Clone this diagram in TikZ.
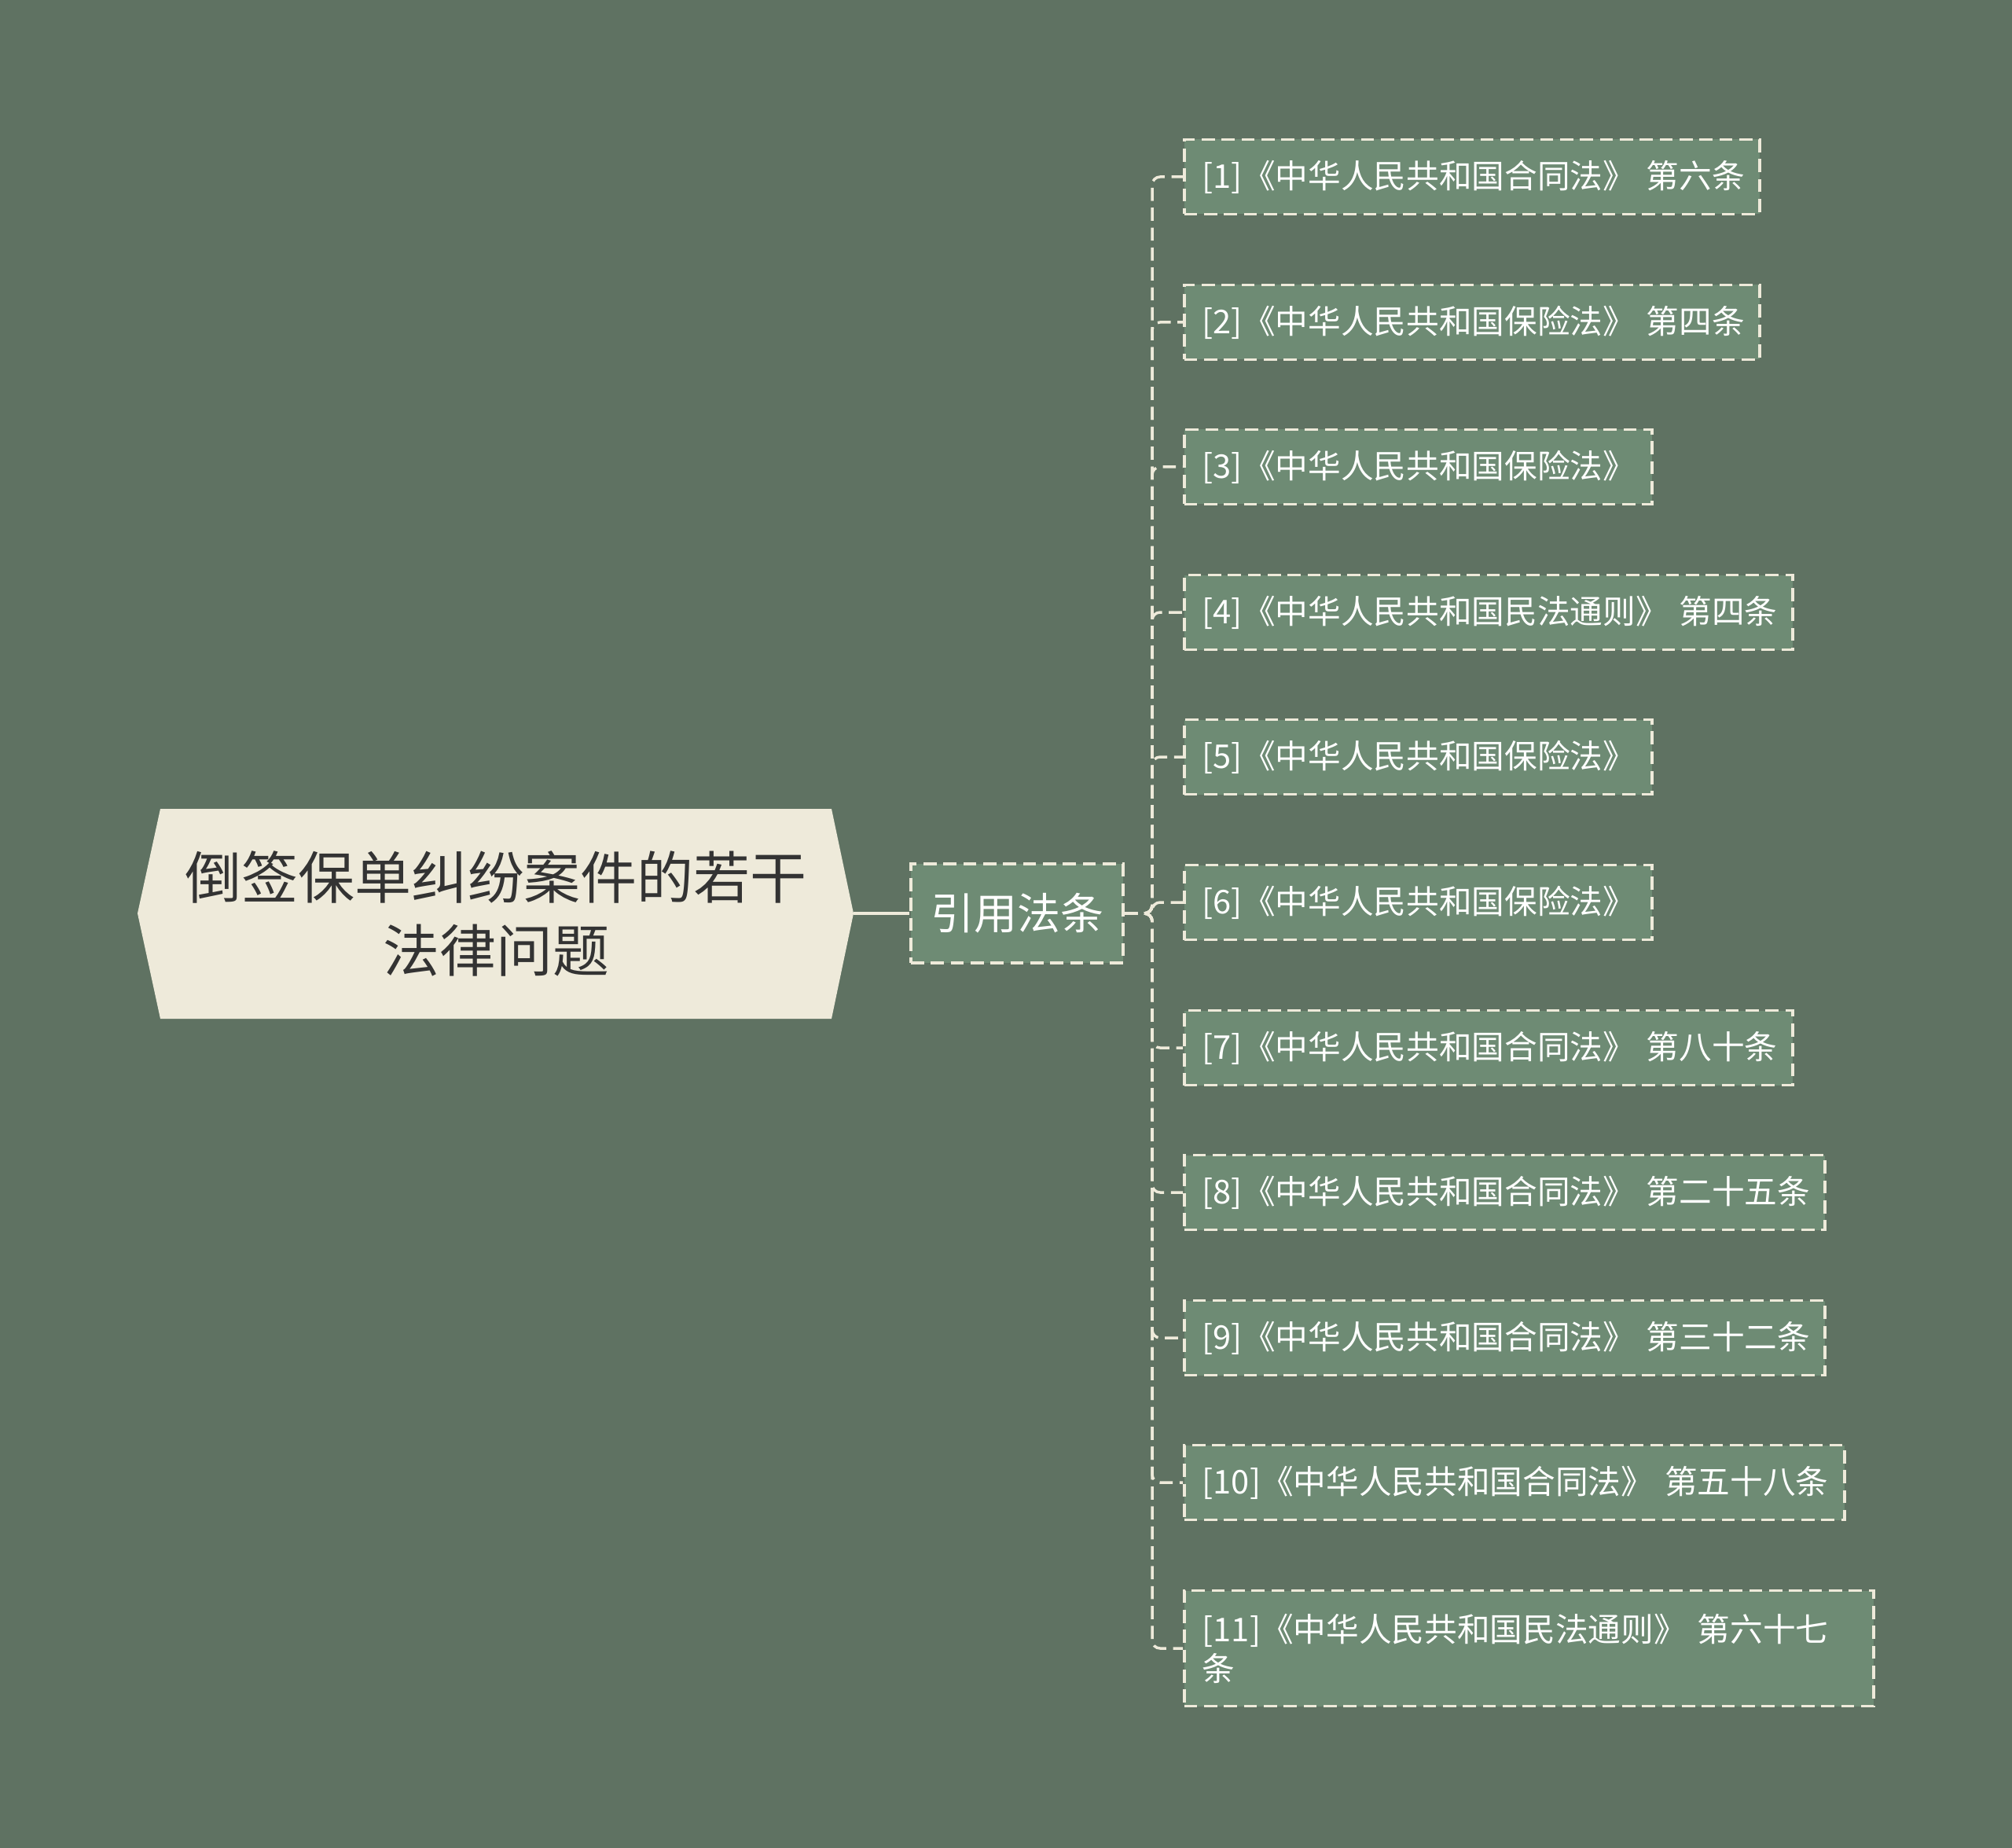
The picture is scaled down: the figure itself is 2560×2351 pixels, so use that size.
\documentclass[tikz,border=0pt]{standalone}
\usepackage{fontspec}
\newfontfamily\cjk{Noto Sans CJK SC}
\definecolor{bgc}{HTML}{5F7262}
\definecolor{cream}{HTML}{EEEADA}
\definecolor{leaffill}{HTML}{6E8B74}
\definecolor{roottext}{HTML}{333333}
\tikzset{
  dashline/.style={draw=cream, line width=1.05pt, dash pattern=on 5pt off 2.6pt},
  leafbox/.style={dashline, fill=leaffill, text=white, font=\cjk\fontsize{12.5}{15}\selectfont,
    anchor=west, inner xsep=6.9pt, inner ysep=0pt, align=left, minimum height=28.5pt},
  midbox/.style={dashline, fill=leaffill, text=white, font=\cjk\fontsize{16.5}{20}\selectfont,
    inner sep=0pt, minimum width=81pt, minimum height=37.8pt},
  roottxt/.style={text=roottext, font=\cjk\fontsize{21.6}{27.9}\selectfont, align=center, inner sep=0pt},
  link/.style={dashline, rounded corners=3pt},
}
\begin{document}
\begin{tikzpicture}[x=0.3pt, y=-0.3pt]
\useasboundingbox (0,0) rectangle (2560,2351);
\fill[bgc] (0,0) rectangle (2560,2351);
% root shape
\fill[cream] (175,1162) -- (204,1029) -- (1058,1029) -- (1086,1162) -- (1058,1296) -- (204,1296) -- cycle;
\node[roottxt] (root) at (631,1162) {倒签保单纠纷案件的若干\\法律问题};
\coordinate (rootR) at (1086,1162);
\node[midbox] (mid) at (1294,1162) {引用法条};
\draw[cream, line width=1.2pt] (rootR) -- (mid.west);
\coordinate (spine) at (1466,1162);
% leaves
\node[leafbox, text width=205.8pt] (c1) at (1505,225) {\mbox{[1]《中华人民共和国合同法》 第六条}};
\node[leafbox, text width=205.8pt] (c2) at (1505,410) {\mbox{[2]《中华人民共和国保险法》 第四条}};
\node[leafbox, text width=164.7pt] (c3) at (1505,594) {\mbox{[3]《中华人民共和国保险法》}};
\node[leafbox, text width=218.4pt] (c4) at (1505,779) {\mbox{[4]《中华人民共和国民法通则》 第四条}};
\node[leafbox, text width=164.7pt] (c5) at (1505,963) {\mbox{[5]《中华人民共和国保险法》}};
\node[leafbox, text width=164.7pt] (c6) at (1505,1148) {\mbox{[6]《中华人民共和国保险法》}};
\node[leafbox, text width=218.4pt] (c7) at (1505,1333) {\mbox{[7]《中华人民共和国合同法》 第八十条}};
\node[leafbox, text width=230.7pt] (c8) at (1505,1517) {\mbox{[8]《中华人民共和国合同法》 第二十五条}};
\node[leafbox, text width=230.7pt] (c9) at (1505,1702) {\mbox{[9]《中华人民共和国合同法》 第三十二条}};
\node[leafbox, text width=238.2pt] (c10) at (1505,1886) {\mbox{[10]《中华人民共和国合同法》 第五十八条}};
\node[leafbox, text width=249.3pt, minimum height=44.1pt] (c11) at (1505,2097) {\mbox{[11]《中华人民共和国民法通则》 第六十七}\\条};
\foreach \c in {c1,c2,c3,c4,c5,c6,c7,c8,c9,c10,c11}{
  \draw[link] (mid.east) -- (spine) |- (\c.west);
}
\end{tikzpicture}
\end{document}
